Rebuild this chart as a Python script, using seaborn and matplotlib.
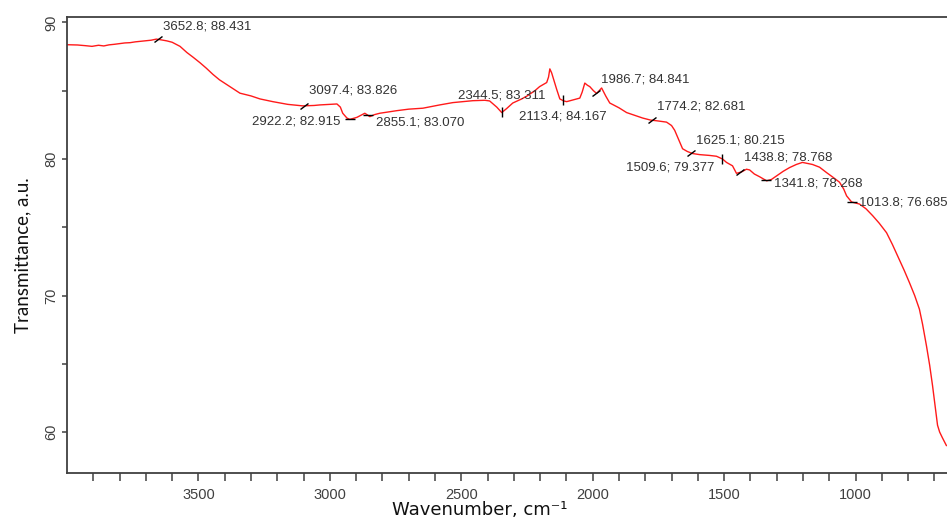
import matplotlib
matplotlib.use('Agg')
import matplotlib.pyplot as plt
from matplotlib.markers import MarkerStyle
from matplotlib.transforms import Affine2D
import pandas as pd
import seaborn as sns
import numpy as np

# spectrum (wavenumber, transmittance)
wavenumber = [4000, 3960, 3930, 3905, 3880, 3860, 3840, 3820, 3800, 3780, 3760, 3740,
              3720, 3700, 3680, 3660, 3640, 3620, 3600, 3570, 3544, 3520, 3494, 3470,
              3445, 3420, 3392, 3360, 3342, 3300, 3266, 3217, 3160, 3103, 3060, 3038,
              2973, 2960, 2951, 2935, 2924, 2910, 2897, 2867, 2855, 2848, 2830, 2810,
              2745, 2700, 2646, 2582, 2532, 2456, 2410, 2392, 2365, 2346, 2327, 2304,
              2270, 2251, 2220, 2202, 2175, 2168, 2163, 2156, 2145, 2137, 2125, 2110,
              2099, 2070, 2049, 2040, 2030, 2020, 2011, 1997, 1985, 1966, 1950, 1935,
              1900, 1871, 1840, 1810, 1780, 1757, 1719, 1700, 1688, 1670, 1658, 1640,
              1620, 1593, 1555, 1529, 1506, 1491, 1468, 1453, 1434, 1415, 1403, 1385,
              1365, 1338, 1320, 1300, 1275, 1251, 1225, 1202, 1164, 1137, 1110, 1085,
              1061, 1045, 1034, 1015, 985, 960, 935, 910, 882, 860, 833, 815,
              795, 775, 757, 745, 730, 718, 707, 698, 688, 680, 670, 654]
transmittance = [88.37, 88.35, 88.30, 88.25, 88.33, 88.28, 88.36, 88.40, 88.45, 88.50, 88.52, 88.58,
                 88.62, 88.66, 88.70, 88.78, 88.72, 88.65, 88.55, 88.25, 87.80, 87.45, 87.05, 86.65,
                 86.20, 85.80, 85.45, 85.05, 84.82, 84.62, 84.40, 84.20, 84.00, 83.89, 83.92, 83.96,
                 84.03, 83.80, 83.35, 83.00, 82.90, 82.98, 83.05, 83.35, 83.20, 83.10, 83.25, 83.35,
                 83.54, 83.65, 83.72, 83.96, 84.13, 84.27, 84.30, 84.25, 83.80, 83.40, 83.70, 84.10,
                 84.40, 84.60, 85.00, 85.30, 85.60, 86.00, 86.60, 86.30, 85.60, 85.10, 84.40, 84.25,
                 84.20, 84.35, 84.46, 84.90, 85.56, 85.40, 85.30, 85.00, 84.80, 85.20, 84.60, 84.10,
                 83.75, 83.40, 83.20, 83.00, 82.85, 82.80, 82.70, 82.45, 82.10, 81.30, 80.75, 80.55,
                 80.40, 80.32, 80.26, 80.20, 80.00, 79.75, 79.50, 78.95, 79.05, 79.25, 79.20, 78.90,
                 78.70, 78.40, 78.50, 78.77, 79.10, 79.37, 79.60, 79.75, 79.60, 79.40, 79.00, 78.65,
                 78.30, 77.80, 77.30, 76.85, 76.70, 76.35, 75.85, 75.30, 74.60, 73.75, 72.60, 71.85,
                 70.95, 70.00, 69.00, 67.90, 66.30, 64.90, 63.40, 62.00, 60.50, 60.00, 59.60, 59.00]

# picked peaks as printed on the chart
peak_wn = [3652.8, 3097.4, 2922.2, 2855.1, 2344.5, 2113.4, 1986.7,
           1774.2, 1625.1, 1509.6, 1438.8, 1341.8, 1013.8]
peak_t = [88.431, 83.826, 82.915, 83.070, 83.311, 84.167, 84.841,
          82.681, 80.215, 79.377, 78.768, 78.268, 76.685]

# label placement: (dx px, dy px, ha, mark)
layout = [(5, 13, 'left', 'diag'), (5, 15, 'left', 'diag'), (-10, -2, 'right', 'h'),
          (8, -7, 'left', 'h'), (0, 17, 'center', 'v'), (0, -16, 'center', 'v'),
          (5, 14, 'left', 'diag'), (5, 14, 'left', 'diag'), (5, 13, 'left', 'diag'),
          (-7, -9, 'right', 'v'), (4, 15, 'left', 'diag'), (8, -3, 'left', 'h'),
          (7, 0, 'left', 'h')]

df = pd.DataFrame({'wn': wavenumber, 't': transmittance})

sns.set_theme(style='ticks')
plt.rcParams['font.family'] = ['Liberation Sans', 'DejaVu Sans']

fig = plt.figure(figsize=(9.47, 5.21), dpi=100)
ax = fig.add_axes([67 / 947, 48 / 521, 880 / 947, 456 / 521])

sns.lineplot(data=df, x='wn', y='t', color='#ff1a1a', lw=1.0, sort=False, ax=ax)

ax.set_xlim(4000, 652)
ax.set_ylim(57.0, 90.4)
ax.set_xticks([3500, 3000, 2500, 2000, 1500, 1000])
ax.set_xticks(np.arange(3900, 650, -100), minor=True)
ax.set_yticks([60, 70, 80, 90])
ax.set_yticks([65, 75, 85], minor=True)

gray = '#404040'
for s in ['left', 'bottom', 'top']:
    ax.spines[s].set_color(gray)
    ax.spines[s].set_linewidth(1.3)
ax.spines['right'].set_visible(False)

ax.tick_params(axis='x', which='both', direction='out', length=6, width=1.1,
               color=gray, labelsize=10.5, labelcolor=gray, pad=5)
ax.tick_params(axis='y', which='both', direction='out', length=3.5, width=1.1,
               color=gray, labelsize=10.5, labelcolor=gray, pad=3)
for lab in ax.get_yticklabels():
    lab.set_rotation(90)
    lab.set_va('center')

ax.set_xlabel('Wavenumber, cm⁻¹', fontsize=13, family='DejaVu Sans', color='#111111')
ax.xaxis.set_label_coords(0.469, -0.062)
ax.set_ylabel('Transmittance, a.u.', fontsize=13.5, family='Lato', color='#111111')
ax.yaxis.set_label_coords(-0.041, 0.478)

marks = {'h': MarkerStyle('_'), 'v': MarkerStyle('|'),
         'diag': MarkerStyle('|', transform=Affine2D().rotate_deg(-50))}
for wn, t, (dx, dy, ha, mk) in zip(peak_wn, peak_t, layout):
    y_at = np.interp(wn, wavenumber[::-1], transmittance[::-1])
    ax.plot([wn], [y_at], marker=marks[mk], color='black', ms=7, mew=1.0)
    ax.annotate(f'{wn}; {t:.3f}', xy=(wn, y_at), xytext=(dx, dy),
                textcoords='offset pixels', ha=ha, va='center',
                fontsize=9.5, color='#333333', annotation_clip=False)

fig.savefig('out.png', dpi=100)
